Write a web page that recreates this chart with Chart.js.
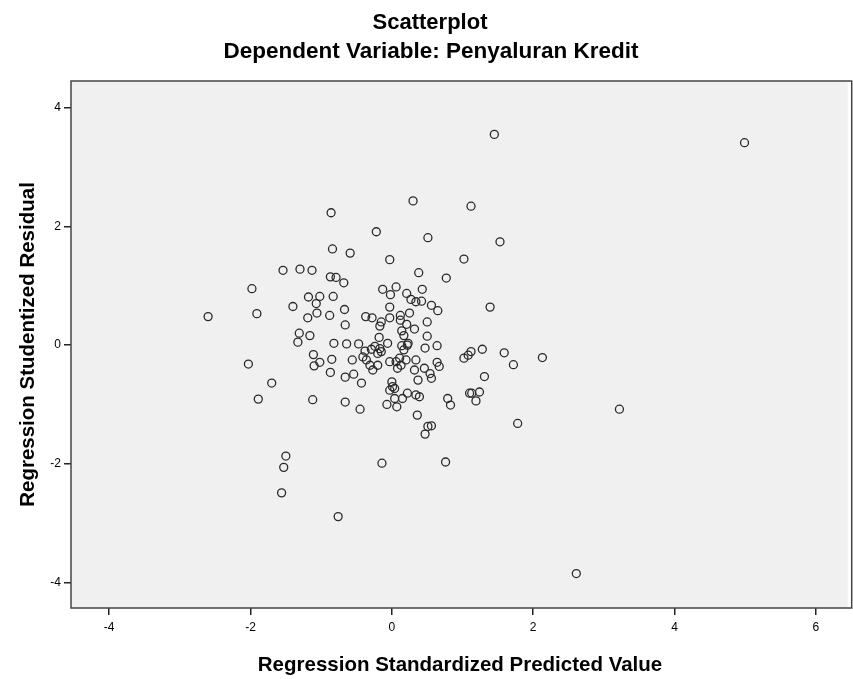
<!DOCTYPE html>
<html>
<head>
<meta charset="utf-8">
<script src="https://cdn.jsdelivr.net/npm/chart.js@4"></script>
<style>
  html, body { margin: 0; padding: 0; background: #fff; }
  #wrap { width: 853px; height: 679px; }
</style>
</head>
<body>
<div id="wrap"><canvas id="c" width="853" height="679"></canvas></div>
<script>
"use strict";

// Regression standardized predicted value (x) and studentized residual (y)
const predicted = [
  -0.86, -0.84, -0.59, -1.54, -1.30, -1.13, -0.87, -0.79, -0.68, -1.98,
  -1.18, -1.02, -0.83, -1.07, -1.40, -0.67, -2.60, -1.91, -1.06, -1.19,
  -0.88, -0.37, -0.66, -1.31, -1.16, -1.33, -0.82, -0.64, -0.47, -2.03,
  -1.11, -1.02, -1.10, -0.85, -0.56, -0.41, -0.87, -0.66, -0.54, -0.43,
  -1.70, -1.89, -1.12, -0.66, -0.45, -1.50, -1.53, 0.30, 1.12, -0.22,
  0.51, 1.53, -0.03, 1.02, 0.38, 0.77, -0.13, 0.06, -0.02, 0.21,
  0.43, 0.27, 0.34, 0.42, 0.56, 0.65, 1.39, -0.03, -0.28, -0.15,
  -0.17, -0.03, 0.12, 0.25, 0.12, 0.21, 0.14, 0.17, 0.32, 0.50,
  0.50, -0.18, -0.06, 0.23, 0.64, 0.47, 0.14, -0.38, -0.29, -0.24,
  -0.17, -0.20, -0.15, 0.17, 0.22, -0.36, -0.31, -0.27, -0.20, -0.03,
  0.06, 0.11, 0.13, 0.08, 0.20, 0.34, 0.46, 0.32, 0.37, 0.54,
  0.56, 0.64, 0.67, 0.00, 0.01, -0.03, 0.04, 0.15, 0.22, 0.34,
  0.39, -0.07, 0.04, 0.07, 0.79, 0.83, 0.36, 0.51, 0.56, 0.47,
  1.02, 1.08, 1.12, 1.28, 1.59, 1.72, 2.13, 1.10, 1.13, 1.24,
  1.19, 1.31, 1.78, -0.14, 0.76, 1.45, 4.99, 3.22, 2.61, -0.76,
  -1.56
];
const residual = [
  2.23, 1.62, 1.55, 1.26, 1.28, 1.26, 1.15, 1.14, 1.05, 0.95,
  0.81, 0.82, 0.82, 0.70, 0.65, 0.60, 0.48, 0.53, 0.54, 0.46,
  0.50, 0.48, 0.34, 0.20, 0.16, 0.05, 0.03, 0.02, 0.02, -0.32,
  -0.16, -0.29, -0.35, -0.24, -0.25, -0.20, -0.46, -0.54, -0.49, -0.64,
  -0.64, -0.91, -0.92, -0.96, -1.08, -1.87, -2.06, 2.43, 2.34, 1.91,
  1.81, 1.74, 1.44, 1.45, 1.22, 1.13, 0.94, 0.98, 0.85, 0.87,
  0.94, 0.77, 0.73, 0.74, 0.67, 0.58, 0.64, 0.64, 0.46, 0.39,
  0.32, 0.46, 0.50, 0.54, 0.42, 0.35, 0.24, 0.16, 0.27, 0.39,
  0.15, 0.13, 0.03, 0.03, -0.01, -0.05, -0.01, -0.10, -0.07, -0.02,
  -0.06, -0.14, -0.11, -0.08, 0.00, -0.25, -0.34, -0.42, -0.34, -0.28,
  -0.28, -0.22, -0.34, -0.39, -0.25, -0.25, -0.39, -0.42, -0.59, -0.48,
  -0.56, -0.29, -0.36, -0.62, -0.70, -0.76, -0.73, -0.90, -0.81, -0.84,
  -0.87, -1.00, -0.90, -1.04, -0.90, -1.01, -1.18, -1.37, -1.36, -1.50,
  -0.22, -0.17, -0.11, -0.07, -0.13, -0.33, -0.21, -0.81, -0.81, -0.79,
  -0.94, -0.53, -1.32, -1.99, -1.97, 3.55, 3.41, -1.08, -3.85, -2.89,
  -2.49
];

const xTicks = [-4, -2, 0, 2, 4, 6];
const yTicks = [-4, -2, 0, 2, 4];

const mainTitle = "Scatterplot";
const subTitle = "Dependent Variable: Penyaluran Kredit";
const xTitle = "Regression Standardized Predicted Value";
const yTitle = "Regression Studentized Residual";

const FONT = "Arial, 'Liberation Sans', sans-serif";

// grey plot background + frame
const plotFrame = {
  id: "plotFrame",
  beforeDatasetsDraw(chart) {
    const { ctx, chartArea: a } = chart;
    ctx.save();
    ctx.fillStyle = "#f0f0f0";
    ctx.fillRect(a.left, a.top, a.right - a.left, a.bottom - a.top);
    ctx.strokeStyle = "#444";
    ctx.lineWidth = 1.5;
    ctx.strokeRect(a.left, a.top, a.right - a.left + 4, a.bottom - a.top);
    ctx.restore();
  },
};

// chart titles and axis titles
const titles = {
  id: "titles",
  afterDraw(chart) {
    const { ctx, chartArea: a } = chart;
    ctx.save();
    ctx.fillStyle = "#000";
    ctx.textAlign = "center";
    ctx.textBaseline = "alphabetic";
    ctx.font = "bold 22px " + FONT;
    ctx.fillText(mainTitle, 430, 29);
    ctx.font = "bold 22.5px " + FONT;
    ctx.fillText(subTitle, 431, 58);
    ctx.font = "bold 20.5px " + FONT;
    ctx.fillText(xTitle, 460, 671);
    ctx.translate(34, (a.top + a.bottom) / 2);
    ctx.rotate(-Math.PI / 2);
    ctx.fillText(yTitle, 0, 0);
    ctx.restore();
  },
};

new Chart(document.getElementById("c"), {
  type: "scatter",
  data: {
    datasets: [{
      data: predicted.map((x, i) => ({ x, y: residual[i] })),
      pointRadius: 4,
      pointHoverRadius: 4,
      pointBorderWidth: 1.3,
      pointBorderColor: "#2a2a2a",
      pointBackgroundColor: "rgba(0,0,0,0)",
    }],
  },
  options: {
    responsive: false,
    animation: false,
    layout: { padding: { top: 81, right: 0, bottom: 0, left: 0 } },
    plugins: { legend: { display: false }, tooltip: { enabled: false } },
    scales: {
      x: {
        type: "linear", min: -4.54, max: 6.45,
        afterBuildTicks: (s) => { s.ticks = xTicks.map((v) => ({ value: v })); },
        afterFit: (s) => { s.height = 71; },
        border: { display: false },
        grid: { drawOnChartArea: false, drawTicks: true, tickLength: 7, color: "#222", lineWidth: 1.5 },
        ticks: { color: "#000", padding: 5, font: { family: FONT, size: 12 } },
      },
      y: {
        type: "linear", min: -4.43, max: 4.45,
        afterBuildTicks: (s) => { s.ticks = yTicks.map((v) => ({ value: v })); },
        afterFit: (s) => { s.width = 71; },
        border: { display: false },
        grid: { drawOnChartArea: false, drawTicks: true, tickLength: 7, color: "#222", lineWidth: 1.5 },
        ticks: { color: "#000", padding: 3, font: { family: FONT, size: 12 } },
      },
    },
  },
  plugins: [plotFrame, titles],
});
</script>
</body>
</html>
